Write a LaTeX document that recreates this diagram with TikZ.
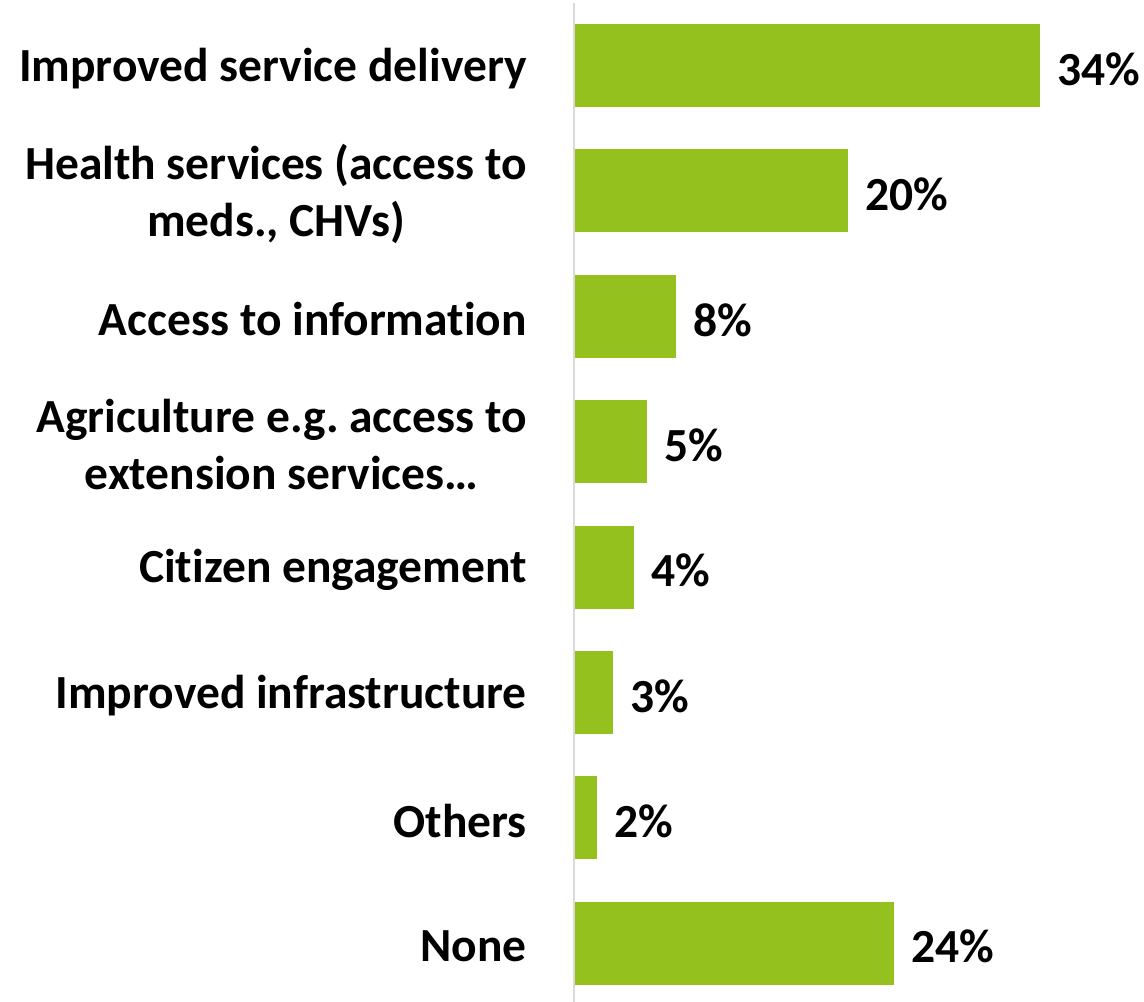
\documentclass[tikz,border=0pt]{standalone}
\usepackage{fontspec}
\setmainfont{Carlito}[Ligatures=NoCommon]
\frenchspacing
\usetikzlibrary{positioning}
\definecolor{bargreen}{RGB}{149,193,31}
\definecolor{axisgray}{RGB}{217,217,217}
\tikzset{
  catlabel/.style={anchor=east, align=center, inner sep=0pt, font=\fontsize{47.5}{57}\selectfont\bfseries},
  vallabel/.style={anchor=west, inner sep=0pt, font=\fontsize{47.5}{57}\selectfont\bfseries}
}
\begin{document}
\begin{tikzpicture}[x=1pt,y=-1pt]
	\useasboundingbox (0,0) rectangle (1144,1002);
	\draw[axisgray, line width=2pt] (574,3) -- (574,1002);
	\foreach \i/\len/\val/\lab in {1/465/34\%/{Improved service delivery},
		2/273/20\%/{Health services (access to\\meds., CHVs)},
		3/101/8\%/{Access to information},
		4/72/5\%/{Agriculture e.g. access to\\extension services\ldots},
		5/59/4\%/{Citizen engagement},
		6/38/3\%/{Improved infrastructure},
		7/22/2\%/{Others},
		8/319/24\%/{None}}
	{
		\fill[bargreen] (575,{24+125.4*(\i-1)}) rectangle ++(\len,83);
		\node[catlabel] (lab\i) at (527,{68.5+125.4*(\i-1)}) {\lab};
		\node[vallabel] (val\i) at ({575+\len+17},{69+125.4*(\i-1)}) {\val};
	}
\end{tikzpicture}
\end{document}
